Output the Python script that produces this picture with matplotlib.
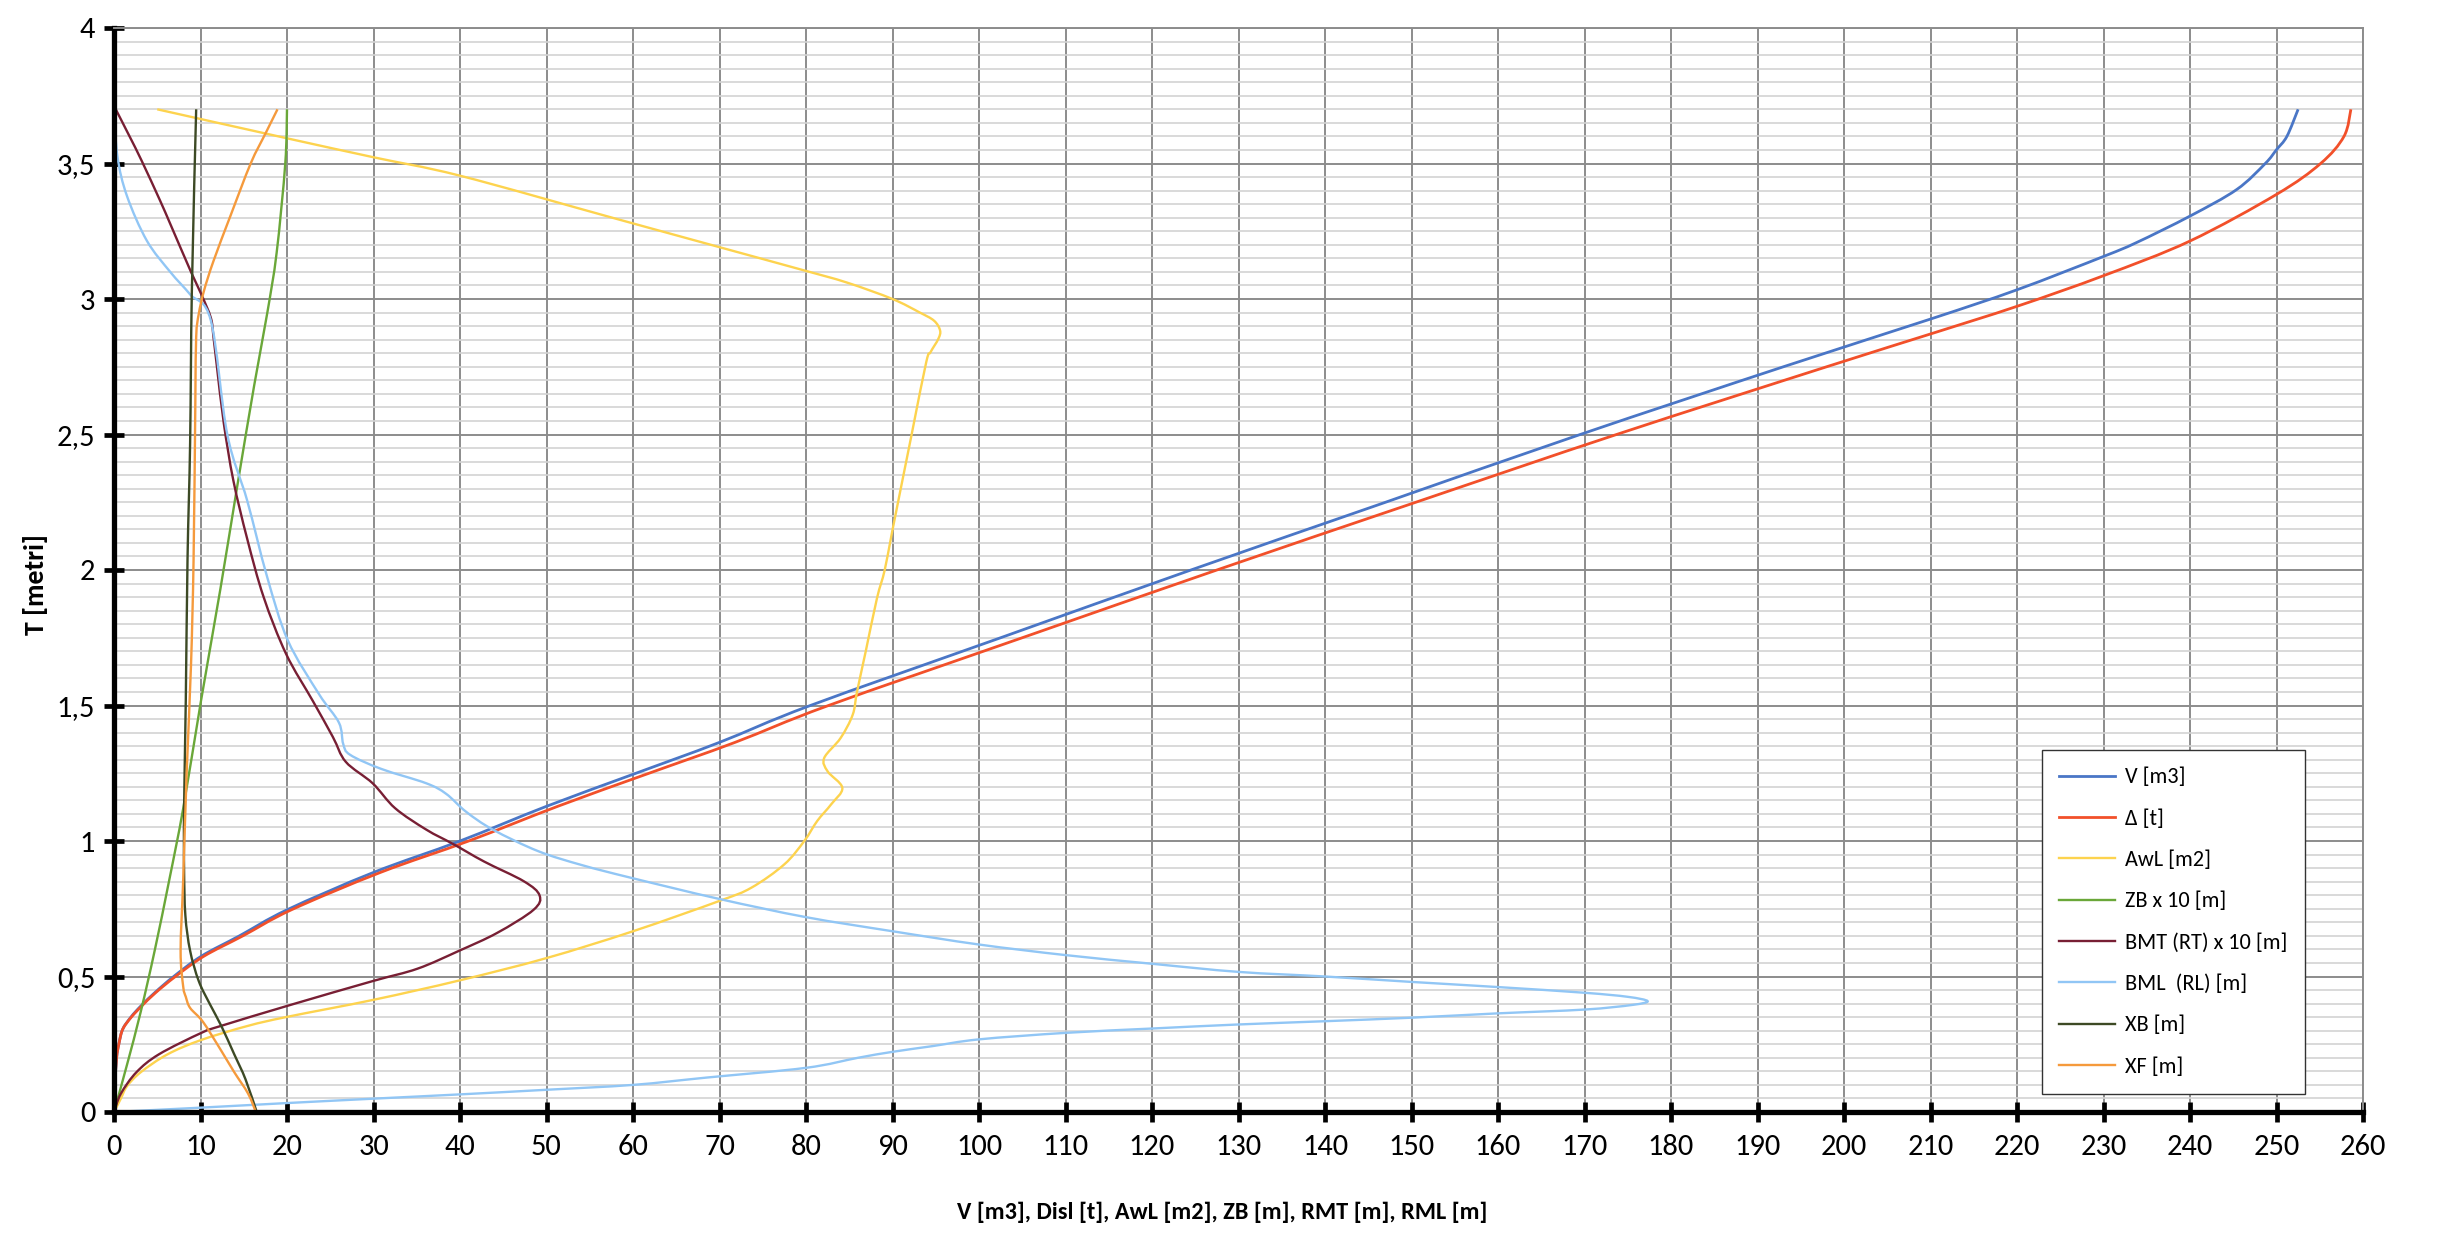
import matplotlib
matplotlib.use("Agg")
import matplotlib.pyplot as plt
from matplotlib import font_manager
from matplotlib.lines import Line2D
from matplotlib.patches import PathPatch
from matplotlib.path import Path
from matplotlib.ticker import MultipleLocator, FixedLocator

# ---- data (T in metres on the y axis) ----
V_T = [0, 0.1, 0.2, 0.25, 0.305, 0.35, 0.391, 0.44, 0.5, 0.575, 0.65, 0.746, 0.884, 1.0,
       1.128, 1.246, 1.364, 1.5, 1.75, 2.0, 2.25, 2.5, 2.75, 2.926, 3.034, 3.157, 3.208,
       3.306, 3.404, 3.5, 3.551, 3.6, 3.7]
V = [0, 0.1, 0.3, 0.55, 1.0, 1.95, 3.1, 4.7, 6.9, 10.1, 14.5, 20, 30, 40,
     50, 60, 70, 80.5, 102.5, 124.5, 147, 169.5, 193, 210, 220, 230, 233.8,
     240, 245.4, 248.7, 250, 251.2, 252.5]

DISP_T = [0, 0.1, 0.2, 0.25, 0.305, 0.35, 0.391, 0.44, 0.5, 0.575, 0.65, 0.746, 0.884, 1.0,
          1.128, 1.246, 1.364, 1.5, 1.75, 2.0, 2.25, 2.5, 2.75, 2.871, 2.973, 3.086, 3.214,
          3.386, 3.5, 3.6, 3.7]
DISP = [0, 0.1, 0.3, 0.56, 1.0, 2.0, 3.2, 4.8, 7.1, 10.4, 14.9, 20.5, 30.8, 41,
        51.3, 61.5, 71.8, 82.6, 105, 127.5, 150.5, 173.7, 198, 210, 220, 230, 240,
        250, 255.1, 257.8, 258.6]

AWL_T = [0, 0.05, 0.095, 0.147, 0.213, 0.266, 0.318, 0.351, 0.414, 0.486, 0.568, 0.667,
         0.779, 0.828, 0.914, 1.0, 1.074, 1.135, 1.196, 1.257, 1.306, 1.38, 1.466, 1.551,
         1.699, 1.895, 2.0, 2.148, 2.498, 2.767, 2.804, 2.853, 2.884, 2.92, 2.951, 3.0,
         3.061, 3.108, 3.2, 3.3, 3.455, 3.523, 3.593, 3.7]
AWL = [0, 0.8, 1.5, 3.1, 6.2, 10.1, 15.5, 20, 30, 40, 50, 60,
       70, 73.7, 77.5, 79.8, 81.3, 82.9, 84.2, 82.5, 82.1, 84.0, 85.4, 85.9,
       86.9, 88.2, 89.1, 90.0, 92.2, 93.9, 94.4, 95.3, 95.5, 94.8, 93.1, 90.0,
       84.7, 79.5, 69, 57.6, 40, 30, 20, 5.0]

ZB_T = [0, 0.174, 0.371, 0.595, 0.858, 1.12, 1.516, 1.93, 2.3, 2.68, 2.945, 3.17, 3.5, 3.7]
ZB10 = [0, 1.5, 3.1, 4.7, 6.4, 8.0, 10.05, 12.3, 14.2, 16.2, 17.7, 18.8, 19.8, 20.0]

BMT_T = [0, 0.068, 0.147, 0.213, 0.292, 0.318, 0.397, 0.483, 0.529, 0.595, 0.661, 0.746,
         0.799, 0.851, 0.924, 0.989, 1.042, 1.121, 1.213, 1.292, 1.384, 1.516, 1.69, 1.9,
         2.115, 2.33, 2.54, 2.75, 2.86, 2.93, 3.017, 3.1, 3.27, 3.365, 3.51, 3.6, 3.7]
BMT10 = [0, 0.8, 2.6, 5.2, 10.1, 12.4, 20.6, 29.9, 35.1, 39.9, 44.3, 48.5,
         49.2, 47.4, 42.8, 39.2, 36.1, 32.5, 29.9, 26.8, 25.3, 23.0, 19.9, 17.3,
         15.4, 13.8, 12.7, 11.9, 11.5, 11.2, 10.1, 8.9, 6.6, 5.3, 3.2, 1.8, 0.2]

BML_T = [0, 0.016, 0.033, 0.05, 0.065, 0.082, 0.1, 0.127, 0.163, 0.2, 0.222, 0.243, 0.268,
         0.292, 0.308, 0.323, 0.335, 0.348, 0.364, 0.378, 0.395, 0.409, 0.425, 0.44, 0.461,
         0.48, 0.5, 0.517, 0.547, 0.579, 0.618, 0.667, 0.719, 0.786, 0.864, 0.911, 0.963,
         1.042, 1.108, 1.174, 1.213, 1.266, 1.318, 1.358, 1.437, 1.542, 1.74, 1.975, 2.256,
         2.5, 2.92, 3.017, 3.1, 3.215, 3.38, 3.525, 3.7]
BML = [0, 10, 20, 30.5, 40, 50, 60, 68.5, 80, 86, 90, 94.6, 100,
       110, 120, 130, 140, 150, 160, 170, 175.5, 177.3, 175, 170, 160,
       150, 140, 130, 120, 110, 100, 90, 80, 70, 59.8, 54.1, 49,
       43.8, 40.7, 38.4, 36.1, 30.9, 27.3, 26.5, 26.0, 23.7, 20.1, 17.7, 15.4,
       13.1, 11.2, 8.8, 6.5, 3.8, 1.5, 0.4, 0]

XB_T = [0, 0.121, 0.213, 0.318, 0.397, 0.483, 0.595, 0.726, 0.9, 1.12, 1.52, 2.04, 2.47, 3.03, 3.7]
XB = [16.5, 15.2, 13.9, 12.4, 11.1, 9.8, 8.8, 8.25, 8.1, 8.1, 8.3, 8.5, 8.8, 9.0, 9.5]

XF_T = [0, 0.068, 0.147, 0.226, 0.332, 0.384, 0.425, 0.463, 0.595, 0.858, 1.253, 1.647,
        2.04, 2.61, 2.86, 2.945, 3.03, 3.14, 3.31, 3.5, 3.61, 3.7]
XF = [16.4, 15.5, 13.9, 12.4, 10.3, 8.8, 8.3, 8.0, 7.7, 8.0, 8.4, 8.9,
      9.2, 9.4, 9.5, 9.8, 10.4, 11.5, 13.5, 15.8, 17.5, 18.9]

series = [
    (V, V_T, "V [m3]", "#4A76C6"),
    (DISP, DISP_T, "\u0394 [t]", "#F2502A"),
    (AWL, AWL_T, "AwL [m2]", "#FDD34E"),
    (ZB10, ZB_T, "ZB x 10 [m]", "#6AA739"),
    (BMT10, BMT_T, "BMT (RT) x 10 [m]", "#781F34"),
    (BML, BML_T, "BML  (RL) [m]", "#91C6F5"),
    (XB, XB_T, "XB [m]", "#3D4A25"),
    (XF, XF_T, "XF [m]", "#F59A3C"),
]

x_ticks = list(range(0, 261, 10))
y_ticks = [0, 0.5, 1, 1.5, 2, 2.5, 3, 3.5, 4]
y_labels = ["0", "0,5", "1", "1,5", "2", "2,5", "3", "3,5", "4"]


def pick_font(*cands):
    names = {f.name for f in font_manager.fontManager.ttflist}
    for c in cands:
        if c in names:
            return c
    return 'DejaVu Sans'


def smooth_path(xs, ys):
    # excel style "smoothed line": bezier segments through every point
    pts = list(zip(xs, ys))
    verts = [pts[0]]
    codes = [Path.MOVETO]
    n = len(pts)
    for i in range(n - 1):
        p0 = pts[i - 1] if i > 0 else pts[i]
        p1 = pts[i]
        p2 = pts[i + 1]
        p3 = pts[i + 2] if i + 2 < n else pts[i + 1]
        c1 = (p1[0] + (p2[0] - p0[0]) / 6, p1[1] + (p2[1] - p0[1]) / 6)
        c2 = (p2[0] - (p3[0] - p1[0]) / 6, p2[1] - (p3[1] - p1[1]) / 6)
        verts += [c1, c2, p2]
        codes += [Path.CURVE4] * 3
    return Path(verts, codes)


font = pick_font('Carlito', 'Lato', 'Liberation Sans')
plt.rcParams['font.family'] = [font, 'DejaVu Sans']

fig = plt.figure(figsize=(24.64, 12.48), dpi=100)
ax = fig.add_axes([114 / 2464, 1 - 1112 / 1248, 2249 / 2464, 1084 / 1248])

handles = []
for xs, ts, lab, col in series:
    lw = 2.0 if lab in ("V [m3]", "\u0394 [t]") else 1.7
    ax.add_patch(PathPatch(smooth_path(xs, ts), fill=False, edgecolor=col, lw=lw,
                           capstyle='butt', zorder=2))
    handles.append(Line2D([], [], color=col, lw=lw, label=lab))

ax.set_xlim(0, 260)
ax.set_ylim(0, 4)
ax.xaxis.set_major_locator(FixedLocator(x_ticks))
ax.yaxis.set_major_locator(FixedLocator(y_ticks))
ax.yaxis.set_minor_locator(MultipleLocator(0.05))
ax.set_yticklabels(y_labels)

ax.grid(which='minor', axis='y', color='#d3d3d3', lw=1.2, zorder=0)
ax.grid(which='major', color='#8c8c8c', lw=1.4, zorder=0)
ax.set_axisbelow(True)

for s in ('left', 'bottom'):
    ax.spines[s].set_color('black')
    ax.spines[s].set_linewidth(3.8)
for s in ('right', 'top'):
    ax.spines[s].set_color('#8c8c8c')
    ax.spines[s].set_linewidth(1.4)

ax.tick_params(which='major', direction='inout', length=15, width=3.4, color='black',
               labelsize=22)
ax.tick_params(which='major', axis='x', pad=8)
ax.tick_params(which='major', axis='y', pad=6)
ax.tick_params(which='minor', length=0)

fig.text(1222 / 2464, 1 - 1212 / 1248, "V [m3], Disl [t], AwL [m2], ZB [m], RMT [m], RML [m]",
         ha='center', va='center', fontsize=17.5, fontweight='bold')
fig.text(35 / 2464, 1 - 585 / 1248, "T [metri]", ha='center', va='center', rotation=90,
         fontsize=20, fontweight='bold')

leg = ax.legend(handles=handles, loc='upper left', bbox_to_anchor=(2042 / 2464, 1 - 750 / 1248),
                bbox_transform=fig.transFigure, borderaxespad=0, fontsize=16,
                frameon=True, fancybox=False, edgecolor='#333333', framealpha=1,
                handlelength=2.5, handletextpad=0.45, labelspacing=0.96, borderpad=0.78)
leg.get_frame().set_linewidth(1.0)

fig.savefig("out.png", dpi=100)
